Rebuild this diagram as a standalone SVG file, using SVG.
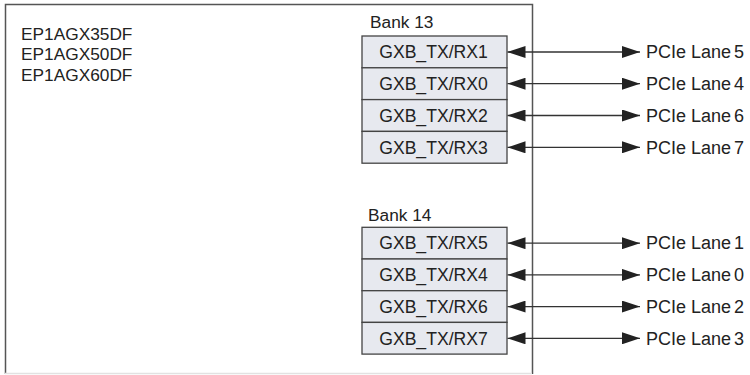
<svg xmlns="http://www.w3.org/2000/svg" width="750" height="375" viewBox="0 0 750 375">
<style>
text{font-family:"Liberation Sans",Arial,sans-serif;font-size:17.3px;fill:#222}
.cell{fill:#e7e9ef;stroke:#444;stroke-width:1.3}
.cell+text{text-anchor:middle;font-size:17.6px}
.lane{font-size:18px}
.conn{stroke:#333;stroke-width:1.3;fill:none;marker-start:url(#ah);marker-end:url(#ah)}
</style>
<defs>
<marker id="ah" markerUnits="userSpaceOnUse" viewBox="0 0 18 12" markerWidth="18" markerHeight="12" refX="18" refY="6" orient="auto-start-reverse">
<path d="M0,0 L18,6 L0,12 Z" fill="#222"/>
</marker>
</defs>
<rect width="750" height="375" fill="#fff"/>
<g id="device">
<path d="M5.5,374 V4.5 H532.5 V374" fill="none" stroke="#555" stroke-width="1.5"/>
<line x1="5" y1="373.5" x2="532" y2="373.5" stroke="#e2e2e2" stroke-width="1.5"/>
<text x="21" y="39.5">EP1AGX35DF</text>
<text x="21" y="60">EP1AGX50DF</text>
<text x="21" y="80.5">EP1AGX60DF</text>
</g>
<g id="bank13">
<text x="370" y="27.5">Bank 13</text>
<g id="rx1"><rect class="cell" x="362" y="36" width="145" height="31.8"/><text x="433.5" y="58.2">GXB_TX/RX1</text></g>
<g id="rx0"><rect class="cell" x="362" y="67.8" width="145" height="31.8"/><text x="433.5" y="90">GXB_TX/RX0</text></g>
<g id="rx2"><rect class="cell" x="362" y="99.6" width="145" height="31.8"/><text x="433.5" y="121.8">GXB_TX/RX2</text></g>
<g id="rx3"><rect class="cell" x="362" y="131.4" width="145" height="31.8"/><text x="433.5" y="153.6">GXB_TX/RX3</text></g>
</g>
<g id="bank14">
<text x="368" y="220.5">Bank 14</text>
<g id="rx5"><rect class="cell" x="362" y="227.3" width="145" height="31.7"/><text x="433.5" y="249.4">GXB_TX/RX5</text></g>
<g id="rx4"><rect class="cell" x="362" y="259" width="145" height="31.7"/><text x="433.5" y="281.1">GXB_TX/RX4</text></g>
<g id="rx6"><rect class="cell" x="362" y="290.7" width="145" height="31.7"/><text x="433.5" y="312.8">GXB_TX/RX6</text></g>
<g id="rx7"><rect class="cell" x="362" y="322.4" width="145" height="31.7"/><text x="433.5" y="344.5">GXB_TX/RX7</text></g>
</g>
<g id="lanes">
<text class="lane" x="646" y="58.2">PCIe Lane<tspan dx="3">5</tspan></text>
<text class="lane" x="646" y="90">PCIe Lane<tspan dx="3">4</tspan></text>
<text class="lane" x="646" y="121.8">PCIe Lane<tspan dx="3">6</tspan></text>
<text class="lane" x="646" y="153.6">PCIe Lane<tspan dx="3">7</tspan></text>
<text class="lane" x="646" y="249.4">PCIe Lane<tspan dx="3">1</tspan></text>
<text class="lane" x="646" y="281.1">PCIe Lane<tspan dx="3">0</tspan></text>
<text class="lane" x="646" y="312.8">PCIe Lane<tspan dx="3">2</tspan></text>
<text class="lane" x="646" y="344.5">PCIe Lane<tspan dx="3">3</tspan></text>
</g>
<g id="connectors">
<line class="conn" x1="507.5" y1="52" x2="640" y2="52"/>
<line class="conn" x1="507.5" y1="83.7" x2="640" y2="83.7"/>
<line class="conn" x1="507.5" y1="115.5" x2="640" y2="115.5"/>
<line class="conn" x1="507.5" y1="147.3" x2="640" y2="147.3"/>
<line class="conn" x1="507.5" y1="243.2" x2="640" y2="243.2"/>
<line class="conn" x1="507.5" y1="274.9" x2="640" y2="274.9"/>
<line class="conn" x1="507.5" y1="306.6" x2="640" y2="306.6"/>
<line class="conn" x1="507.5" y1="338.3" x2="640" y2="338.3"/>
</g>
</svg>
